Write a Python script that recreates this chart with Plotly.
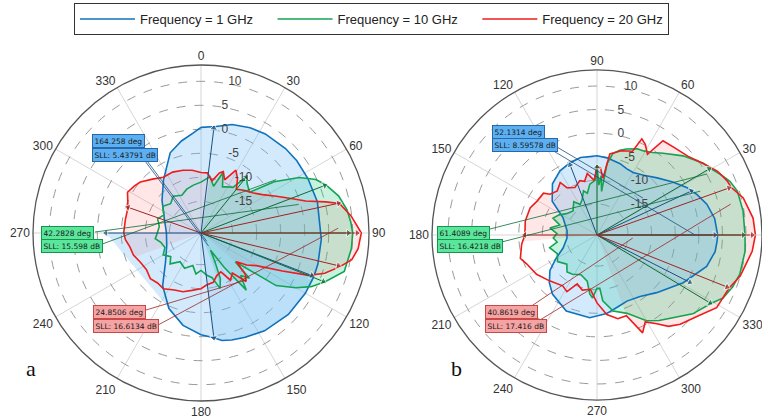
import math
import plotly.graph_objects as go

W, H = 762, 419
RMIN, RMAX = -21.6, 13.4

# ---------------- chart a : angle clockwise from top (deg), gain (dB) ----------------
a_theta_1 = [0, 8, 16, 25, 33, 45, 53, 63, 75, 93, 105, 111, 120, 133, 147, 157, 164, 169, 173, 180,
             191, 203, 216, 231, 250, 270, 290, 310, 325, 339, 348, 355, 360]
a_db_1 = [0.4, 0.8, 1.9, 2.6, 3.0, 3.3, 3.4, 3.4, 3.5, 3.5, 3.6, 3.6, 3.5, 3.3, 2.7, 2.0, 1.6, 1.2, 0.4, -0.4,
          -2.0, -4.5, -8.0, -12.1, -14.0, -14.4, -13.5, -11.0, -8.0, -3.7, -2.0, -0.8, 0.4]

a_theta_10 = [0, 9, 15, 20, 25, 30, 35, 39, 43, 50, 55, 60.5, 65, 69, 75, 81, 86, 90, 96, 105, 111.6, 116,
              120, 125, 130, 133, 137, 141.6, 146, 151, 154, 157, 161, 166, 172, 180, 187, 194, 205, 216,
              225, 232, 240, 248, 257, 263, 270, 279, 288, 296, 305, 314, 323, 333, 342, 351, 360]
a_db_10 = [-11, -9.7, -11.5, -8.2, -11, -10.5, -10, -6.5, -7.5, -8.4, -3, 1.9, 4.8, 6.3, 8.1, 9.2, 9.7, 10.0,
           9.9, 9.3, 6.1, 3.9, 1.2, -2.5, -12.3, -7.8, -9.5, -6.4, -13, -17.5, -15, -11.3, -9.4, -12, -12.7,
           -13.8, -13, -14.6, -13.5, -14.2, -12.5, -13.6, -12.5, -13.5, -13, -12, -12.5, -12.8, -12.1, -13,
           -11.9, -12.8, -12, -12.8, -12, -11.5, -11]

a_theta_20 = [0, 6, 12, 17, 20, 24, 29, 34, 39, 45, 52, 58, 64, 69, 73, 76, 78, 83.6, 90, 95.7, 100, 103.6,
              108, 111.5, 115, 120.5, 125, 129, 133, 137, 142, 148, 153, 160, 166, 174, 180, 189, 197, 205,
              214, 221, 228, 236, 244, 252, 259, 265, 270, 280, 289, 299, 305, 310, 318, 326, 335, 344, 352, 360]
a_db_20 = [-9, -9, -10.5, -8.5, -8.0, -9.5, -6.6, -8, -9.9, -9, -8.0, -6.5, -4.1, -1.5, 1.2, 5.2, 7.9, 9.9,
           11.8, 11.3, 10.3, 8.2, 5.5, 2.5, -2.9, -8.2, -10, -12.1, -9, -7.8, -11, -10, -12.5, -12.1, -11,
           -10.7, -10, -9.5, -8.8, -8.5, -7.6, -7.8, -7.4, -7.9, -7.6, -6.8, -6.5, -5.8, -5.5, -5.6, -5.5,
           -4.1, -4.6, -5.1, -6.5, -7.6, -7.6, -8, -8.4, -9]

# lobe markers: [max, -3 dB low, -3 dB high, side lobe]
a_arrow_theta_1 = [111, 7, 173, 270]
a_arrow_db_1 = [3.1, 0.4, 0.4, -1.8]
a_arrow_theta_10 = [90, 69, 111.6, 39]
a_arrow_db_10 = [9.1, 6.0, 5.8, -6.6]
a_arrow_theta_20 = [90, 77.8, 103.4, 289.4]
a_arrow_db_20 = [10.9, 7.7, 7.8, -5.5]

a_bw = ["164.258 deg", "42.2828 deg", "24.8506 deg"]
a_sll = ["SLL: 5.43791 dB", "SLL: 15.598 dB", "SLL: 16.6134 dB"]

# ---------------- chart b : angle counter-clockwise from right (deg), gain (dB) ----------------
b_theta_1 = [0, 8, 15.7, 22, 27.6, 35, 43.5, 52, 60, 66, 72, 82.6, 90, 102, 111, 120, 131, 143, 153, 172,
             186, 201, 210, 217, 225, 233, 248, 265, 277, 287, 294.4, 305, 316, 331, 344, 352, 357, 360]
b_db_1 = [4.0, 3.6, 2.6, 1.3, 0.0, -2, -4, -5.5, -6.3, -6.2, -5.7, -5.1, -4.8, -4.8, -5.3, -5.9, -7.2, -9.7,
          -13.5, -15.2, -15.2, -13.9, -11.5, -9.1, -7.3, -5.9, -4.2, -4.0, -4.8, -5.8, -6.2, -5.7, -4.0,
          -0.7, 2.6, 3.7, 3.9, 4.0]

b_theta_10 = [0, 9.3, 17.4, 22, 26.4, 30.5, 34, 42.6, 51, 56, 61, 65, 71, 75, 79, 82, 84, 86, 88, 90, 92, 98,
              103, 107, 113, 119, 125, 135, 145, 152, 159, 165, 171.5, 178, 184, 190, 195, 205, 214, 224, 231,
              238, 248, 258, 263, 266, 270, 273, 275, 282, 291, 300, 306, 312.5, 320.5, 329, 333.5, 339, 344.7,
              353.8, 360]
b_db_10 = [9.8, 9.8, 9.6, 8.8, 7.5, 6.3, 5.6, 3.2, 0.7, -0.5, -1.2, -1.4, -2.3, -3.0, -4.0, -6.3, -12.3, -9,
           -11, -6.8, -10, -10.7, -12.5, -11.8, -13.5, -14.2, -13, -14.4, -13.7, -12.5, -11.6, -13.4, -11.5,
           -13.1, -12.3, -13, -11.2, -12.3, -11.5, -12.7, -11.5, -11.8, -12.5, -11.6, -9, -8.2, -10.3, -10.3,
           -7.6, -5.1, -3.8, -0.6, 0.8, 2.2, 4.7, 6.6, 8.3, 9.2, 9.8, 10.0, 9.8]

b_theta_20 = [0, 6.2, 14.2, 19.6, 22.6, 28, 33.8, 41, 48, 55, 58, 62, 65, 67, 74, 81, 84, 87, 90, 93, 99, 103,
              107.5, 115, 122.5, 125, 132, 139, 142, 150.5, 158, 169, 180, 187, 197, 202.5, 213, 224, 236, 242,
              248, 255, 263, 270, 277, 284, 290, 295, 299, 304, 308, 313, 321, 328.7, 338, 344, 354, 360]
b_db_20 = [12.0, 11.7, 10.4, 8.6, 8.3, 7.3, 5.6, 3.9, 3.2, 2.8, -1.4, 0.2, 0.9, -2.3, -3, -4.2, -9.5, -7.4, -7,
           -10, -8.4, -9.9, -9.5, -10.5, -9.7, -8, -9, -8.4, -7.2, -7, -6.3, -6.1, -6.3, -5.5, -4.6, -5.5, -6.3,
           -7.6, -8.6, -8.0, -10.4, -9.5, -10, -7.2, -4.6, -3.3, -3.4, 1.3, -0.5, 1.1, 3.0, 4.3, 5.8, 8.1, 8.6,
           10, 11.5, 12.0]

b_arrow_theta_1 = [0, 25, 333, 111]
b_arrow_db_1 = [3.4, 0.5, 0.5, -5.7]
b_arrow_theta_10 = [0, 30.5, 329, 90]
b_arrow_db_10 = [9.4, 6.0, 6.4, -7.2]
b_arrow_theta_20 = [0, 19.6, 338.2, 180]
b_arrow_db_20 = [11.3, 8.1, 8.1, -6.3]

b_bw = ["52.1314 deg", "61.4089 deg", "40.8619 deg"]
b_sll = ["SLL: 8.59578 dB", "SLL: 16.4218 dB", "SLL: 17.416 dB"]

ang_ticks = list(range(0, 360, 30))
a_ang_text = [str(t) for t in ang_ticks]
b_ang_text = [""] + [str(t) for t in ang_ticks[1:]]   # the 0 label falls outside the picture
rad_ticks = [-15, -10, -5, 0, 5, 10]
# labels sit just right of the vertical axis line: pad with figure spaces
rad_text = ["\u2007" * (len(str(v)) + 2) + str(v) for v in rad_ticks]

series_names = ["Frequency = 1 GHz", "Frequency = 10 GHz", "Frequency = 20 GHz"]
legend_pad = ["\u2007\u2007", "\u2007\u2007", ""]
line_colors = ["#0f72bd", "#13a452", "#ee1c1c"]
arrow_colors = ["#1b4f80", "#0d6b36", "#9e2424"]
fill_colors = ["rgba(110,185,245,0.30)", "rgba(20,200,120,0.24)", "rgba(255,120,120,0.18)"]
box_bg = ["#5cb0f2", "#5ae69b", "#f5a3a3"]
box_border = ["#2668a8", "#16934c", "#c84848"]

# ---------------- geometry (pixels) ----------------
GEOM = {"polar": (201, 233, 168, 90, -1), "polar2": (597, 235, 165, 0, 1)}


def to_paper(sub, theta, db):
    cx, cy, R, rot, sgn = GEOM[sub]
    rp = (db - RMIN) / (RMAX - RMIN) * R
    phi = math.radians(rot + sgn * theta)
    return (cx + rp * math.cos(phi)) / W, 1 - (cy - rp * math.sin(phi)) / H


def dom(sub):
    cx, cy, R, _, _ = GEOM[sub]
    return dict(x=[(cx - R) / W, min(1, (cx + R) / W)], y=[1 - (cy + R) / H, 1 - (cy - R) / H])


def interp(theta, db, t):
    t = t % 360
    for i in range(len(theta) - 1):
        if theta[i] <= t <= theta[i + 1]:
            f = 0 if theta[i + 1] == theta[i] else (t - theta[i]) / (theta[i + 1] - theta[i])
            return db[i] + f * (db[i + 1] - db[i])
    return db[-1]


def arc(theta, db, lo, hi):
    span = (hi - lo) % 360
    mids = sorted({t % 360 for t in theta if 0 < (t - lo) % 360 < span}, key=lambda t: (t - lo) % 360)
    ts = [lo] + mids + [hi]
    return ts, [interp(theta, db, t) for t in ts]


def sector(theta, db, lo, hi):
    ts, rs = arc(theta, db, lo, hi)
    return [lo] + ts + [hi], [RMIN] + rs + [RMIN]


fig = go.Figure()


def add_fill(sub, th, r, color):
    fig.add_trace(go.Scatterpolar(theta=th, r=r, mode="lines", fill="toself", fillcolor=color,
                                  line=dict(width=0), hoverinfo="skip", showlegend=False, subplot=sub))


# ---- fills chart a (red underneath, then green, then blue) ----
th, r = sector(a_theta_20, a_db_20, 250, 130)
add_fill("polar", th, r, fill_colors[2])
th, r = sector(a_theta_10, a_db_10, 9, 160)
add_fill("polar", th, r, fill_colors[1])
ts, rs = arc(a_theta_1, a_db_1, 270, 191)
add_fill("polar", [a_arrow_theta_1[3]] + ts + [a_arrow_theta_1[3]],
         [a_arrow_db_1[3]] + rs + [a_arrow_db_1[3]], fill_colors[0])
th, r = sector(a_theta_1, a_db_1, a_arrow_theta_1[0], a_arrow_theta_1[2])
add_fill("polar", th, r, "rgba(110,185,245,0.22)")

# ---- fills chart b ----
th, r = sector(b_theta_20, b_db_20, 290, 185)
add_fill("polar2", th, r, fill_colors[2])
add_fill("polar2", b_theta_10, b_db_10, fill_colors[1])
add_fill("polar2", b_theta_1, b_db_1, fill_colors[0])

# ---- curves ----
curves = {
    "polar": [(a_theta_1, a_db_1), (a_theta_10, a_db_10), (a_theta_20, a_db_20)],
    "polar2": [(b_theta_1, b_db_1), (b_theta_10, b_db_10), (b_theta_20, b_db_20)],
}
for sub, lst in curves.items():
    for i, (th, r) in enumerate(lst):
        fig.add_trace(go.Scatterpolar(theta=th, r=r, mode="lines", name=series_names[i] + legend_pad[i],
                                      line=dict(color=line_colors[i], width=1.6),
                                      showlegend=(sub == "polar"), subplot=sub))

# ---- leader lines from annotation boxes ----
# box anchor (pixel, layout) -> target (theta, dB, data)
leaders = [
    ("polar", 0, (136, 146), (145, -19.5)), ("polar", 0, (142, 157), (150, -18.5)),
    ("polar", 1, (95, 232), (73.7, -0.4)), ("polar", 1, (97, 246), (54.6, -2.4)),
    ("polar", 2, (146, 310), (136, -8)), ("polar", 2, (158, 325), (88, 7.0)),
    ("polar2", 0, (530, 131), (38.8, -9.1)), ("polar2", 0, (540, 143), (0, -0.8)),
    ("polar2", 1, (478, 232), (29, 5.1)), ("polar2", 1, (486, 246), (23, 2.2)),
    ("polar2", 2, (524, 311), (355, -14)), ("polar2", 2, (530, 326), (13, 7.5)),
]
for sub, ci, (bx, by), (t, d) in leaders:
    x1, y1 = to_paper(sub, t, d)
    fig.add_shape(type="line", xref="paper", yref="paper", x0=bx / W, y0=1 - by / H, x1=x1, y1=y1,
                  line=dict(color=arrow_colors[ci], width=0.8), layer="above")

# ---- lobe arrows ----
arrows = {
    "polar": [(a_arrow_theta_1, a_arrow_db_1), (a_arrow_theta_10, a_arrow_db_10), (a_arrow_theta_20, a_arrow_db_20)],
    "polar2": [(b_arrow_theta_1, b_arrow_db_1), (b_arrow_theta_10, b_arrow_db_10), (b_arrow_theta_20, b_arrow_db_20)],
}
for sub, lst in arrows.items():
    for i, (ths, rs) in enumerate(lst):
        for t, d in zip(ths, rs):
            fig.add_trace(go.Scatterpolar(theta=[t, t], r=[RMIN, d], mode="lines+markers",
                                          line=dict(color=arrow_colors[i], width=1),
                                          marker=dict(symbol="triangle-up", size=[0, 7], angleref="previous",
                                                      color=arrow_colors[i]),
                                          hoverinfo="skip", showlegend=False, subplot=sub))

# ---- annotation boxes ----
boxes = [
    (a_bw, a_sll, [(92, 140.5), (41, 232.5), (93, 312)]),
    (b_bw, b_sll, [(492, 131.5), (437, 232.5), (485, 312)]),
]
for bw, sll, pos in boxes:
    for i in range(3):
        x, y = pos[i]
        for j, txt in enumerate([bw[i], sll[i]]):
            fig.add_annotation(x=x / W, y=1 - (y + j * 14) / H, xref="paper", yref="paper",
                               xanchor="left", yanchor="middle", text=txt, showarrow=False,
                               font=dict(family="DejaVu Sans", size=7.5, color="#1a1a1a"),
                               bgcolor=box_bg[i], bordercolor=box_border[i], borderwidth=1, borderpad=1.5)

for lbl, x in [("a", 24), ("b", 456)]:
    fig.add_annotation(x=x / W, y=1 - 383 / H, xref="paper", yref="paper", text=lbl, showarrow=False,
                       font=dict(family="Liberation Serif", size=22, color="#111"))

polar_common = dict(
    bgcolor="white",
    radialaxis=dict(range=[RMIN, RMAX], tickvals=rad_ticks, ticktext=rad_text, angle=90, side="clockwise",
                    tickangle=90, showline=False, ticks="", gridcolor="#9a9a9a", griddash="dash", gridwidth=1,
                    tickfont=dict(family="Liberation Sans", size=12, color="#444")),
)
ang_common = dict(tickvals=ang_ticks, ticks="", showline=True, linecolor="#555", linewidth=1.3,
                  gridcolor="#d6d6d6", gridwidth=1,
                  tickfont=dict(family="Liberation Sans", size=12, color="#333"))

fig.update_layout(
    width=W, height=H, margin=dict(l=0, r=0, t=0, b=0), paper_bgcolor="white",
    polar=dict(domain=dom("polar"),
               angularaxis=dict(rotation=90, direction="clockwise", ticktext=a_ang_text, **ang_common),
               **polar_common),
    polar2=dict(domain=dom("polar2"),
                angularaxis=dict(rotation=0, direction="counterclockwise", ticktext=b_ang_text, **ang_common),
                **polar_common),
    legend=dict(orientation="h", x=371.5 / W, xanchor="center", y=1 - 3 / H, yanchor="top",
                bordercolor="#333", borderwidth=1, bgcolor="white", itemwidth=55,
                font=dict(family="Liberation Sans", size=13, color="#222")),
)

fig.write_html("out.html")
